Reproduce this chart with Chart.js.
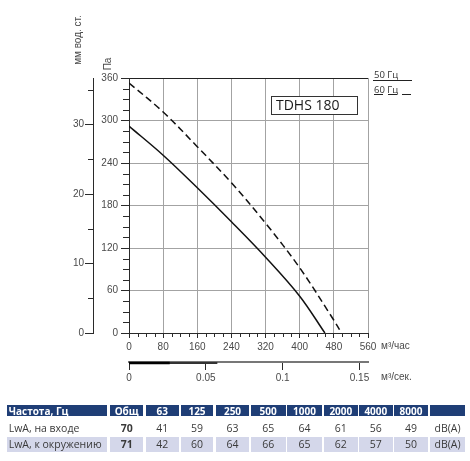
<!DOCTYPE html>
<html><head><meta charset="utf-8">
<script src="https://cdn.jsdelivr.net/npm/chart.js@4/dist/chart.umd.min.js"></script>
<style>
body{margin:0;width:470px;height:461px;overflow:hidden;background:#fff;position:relative;font-family:"Open Sans",sans-serif}
#c{position:absolute;left:0;top:0}
.cell{position:absolute;display:flex;align-items:center;justify-content:center;white-space:nowrap;box-sizing:border-box;color:#3a3a3a;font-size:10.5px}
.hd{background:#1f3e76;color:#fff;font-weight:bold;font-size:10px}
.alt{background:#d4d7ea}
.first{justify-content:flex-start;padding-left:2px}
</style></head>
<body>
<canvas id="c" width="470" height="461"></canvas>
<div id="tbl"></div>
<script>
// ---- data ----
const flow50 = [0, 80, 160, 240, 320, 400, 459];
const pa50   = [292, 251, 205, 157, 107, 52, 0];
const flow60 = [0, 80, 160, 240, 320, 400, 480, 498];
const pa60   = [353, 312, 263, 212, 155, 92, 18, 0];

const flowTicks = [0, 80, 160, 240, 320, 400, 480, 560];
const paTicks   = [0, 60, 120, 180, 240, 300, 360];
const mmTicks   = [0, 10, 20, 30];
const secTicks  = [0, 0.05, 0.1, 0.15];

const seriesNames = ['50 Гц', '60 Гц'];
const modelName = 'TDHS 180';

const tableHead = ['Частота, Гц', 'Общ', '63', '125', '250', '500', '1000', '2000', '4000', '8000', ''];
const rowInLabel = 'LwA, на входе';
const rowIn  = [70, 41, 59, 63, 65, 64, 61, 56, 49];
const rowAmbLabel = 'LwA, к окружению';
const rowAmb = [71, 42, 60, 64, 66, 65, 62, 57, 50];
const unitDb = 'dB(A)';

// ---- chart ----
const tickFont = {family: '"Liberation Sans", Arial, sans-serif', size: 10};
const tickCol = '#4a4a4a';
const dark = '#2a2a2a';

const extras = {
  id: 'extras',
  afterDraw(chart) {
    const c = chart.ctx;
    const xs = chart.scales.x, ys = chart.scales.y, y2 = chart.scales.y2, x2 = chart.scales.x2;
    c.save();
    c.strokeStyle = dark; c.lineWidth = 1;
    for (let v = 15; v < 360; v += 15) {
      if (v % 60 === 0) continue;
      const y = Math.round(ys.getPixelForValue(v)) + 0.5;
      c.beginPath(); c.moveTo(ys.right - 6, y); c.lineTo(ys.right, y); c.stroke();
    }
    [5, 15, 25, 35].forEach(v => {
      const y = Math.round(y2.getPixelForValue(v)) + 0.5;
      c.beginPath(); c.moveTo(y2.right - 5, y); c.lineTo(y2.right, y); c.stroke();
    });
    for (let v = 20; v < 560; v += 20) {
      if (v % 80 === 0) continue;
      const x = Math.round(xs.getPixelForValue(v)) + 0.5;
      c.beginPath(); c.moveTo(x, xs.top); c.lineTo(x, xs.top + 4); c.stroke();
    }
    c.lineWidth = 2; c.strokeStyle = '#333';
    c.beginPath(); c.moveTo(x2.left, x2.top + 1); c.lineTo(x2.getPixelForValue(0.0575), x2.top + 1); c.stroke();
    c.lineWidth = 2.5; c.strokeStyle = '#000';
    c.beginPath(); c.moveTo(x2.left, x2.top + 1); c.lineTo(x2.getPixelForValue(0.0265), x2.top + 1); c.stroke();

    c.fillStyle = tickCol; c.font = '10px "Liberation Sans", Arial, sans-serif';
    c.textAlign = 'left'; c.textBaseline = 'middle';
    c.fillText('м³/час', 381, xs.top + 13.5);
    c.fillText('м³/сек.', 381, x2.top + 15);
    c.save(); c.translate(108, 64); c.rotate(-Math.PI / 2);
    c.textAlign = 'center'; c.fillText('Па', 0, 0); c.restore();
    c.save(); c.translate(78, 40); c.rotate(-Math.PI / 2);
    c.textAlign = 'center'; c.fillText('мм вод. ст.', 0, 0); c.restore();

    c.font = '9.5px "Open Sans", sans-serif'; c.fillStyle = '#333';
    c.textBaseline = 'alphabetic';
    c.fillText(seriesNames[0], 374, 78);
    c.fillText(seriesNames[1], 374, 92.5);
    c.lineWidth = 1; c.strokeStyle = '#222';
    c.beginPath(); c.moveTo(373, 80.5); c.lineTo(412, 80.5); c.stroke();
    c.setLineDash([9, 5]);
    c.beginPath(); c.moveTo(374, 94.5); c.lineTo(412, 94.5); c.stroke();
    c.setLineDash([]);

    c.fillStyle = '#fff'; c.fillRect(271.5, 96.5, 86, 18);
    c.strokeStyle = '#333'; c.strokeRect(271.5, 96.5, 86, 18);
    c.fillStyle = '#1a1a1a'; c.font = '14px "Open Sans", sans-serif';
    c.textBaseline = 'middle'; c.textAlign = 'left';
    c.fillText(modelName, 276, 106);
    c.restore();
  }
};

const setTicks = arr => s => { s.ticks = arr.map(v => ({value: v})); };

new Chart(document.getElementById('c'), {
  type: 'line',
  data: {
    datasets: [
      {label: seriesNames[0], data: flow50.map((x, i) => ({x, y: pa50[i]})),
       borderColor: '#111', borderWidth: 1.5, pointRadius: 0, tension: 0.35},
      {label: seriesNames[1], data: flow60.map((x, i) => ({x, y: pa60[i]})),
       borderColor: '#111', borderWidth: 1.5, borderDash: [7, 4], pointRadius: 0, tension: 0.35}
    ]
  },
  options: {
    responsive: false, animation: false, devicePixelRatio: 1,
    layout: {padding: {left: 53, right: 102, top: 78, bottom: 74}},
    plugins: {legend: {display: false}, tooltip: {enabled: false}},
    scales: {
      x: {type: 'linear', position: 'bottom', weight: 0, min: 0, max: 560,
          afterBuildTicks: setTicks(flowTicks), afterFit: s => { s.height = 29; },
          grid: {color: '#a3a3a3', tickLength: 5, tickColor: dark},
          border: {color: dark, width: 1},
          ticks: {font: tickFont, color: tickCol, padding: 3, maxRotation: 0, autoSkip: false}},
      x2: {type: 'linear', position: 'bottom', weight: 1, min: 0, max: 560 / 3600,
          afterBuildTicks: setTicks(secTicks), afterFit: s => { s.height = 25; },
          grid: {drawOnChartArea: false, tickLength: 8, tickColor: dark},
          border: {color: '#777', width: 2},
          ticks: {font: tickFont, color: tickCol, padding: 2, maxRotation: 0, autoSkip: false,
                  callback: v => String(v)}},
      y: {type: 'linear', position: 'left', weight: 0, min: 0, max: 360,
          afterBuildTicks: setTicks(paTicks), afterFit: s => { s.width = 36; },
          grid: {color: ctx => (ctx.tick && ctx.tick.value === 360) ? '#222' : '#a3a3a3', tickLength: 8, tickColor: dark},
          border: {color: dark, width: 1},
          ticks: {font: tickFont, color: tickCol, padding: 3, autoSkip: false}},
      y2: {type: 'linear', position: 'left', weight: 1, min: 0, max: 360 / 9.80665,
          afterBuildTicks: setTicks(mmTicks), afterFit: s => { s.width = 40; },
          grid: {drawOnChartArea: false, tickLength: 8, tickColor: dark},
          border: {color: dark, width: 1},
          ticks: {font: tickFont, color: tickCol, padding: 1, autoSkip: false, callback: v => String(v)}}
    }
  },
  plugins: [extras]
});

// ---- table ----
const colX = [6.7, 110, 145.7, 181, 216, 250.7, 287, 324, 359, 394.3, 430];
const colW = [100.6, 33.3, 33.3, 32, 33, 35, 35, 33.7, 33.7, 33.4, 35];
const rowsY = [[405, 11], [420, 15], [437, 14.5]];
const tbl = document.getElementById('tbl');
function cell(text, r, ci, cls, bold) {
  const d = document.createElement('div');
  d.className = 'cell ' + cls + (ci === 0 ? ' first' : '');
  d.style.left = colX[ci] + 'px'; d.style.width = colW[ci] + 'px';
  d.style.top = rowsY[r][0] + 'px'; d.style.height = rowsY[r][1] + 'px';
  if (bold) d.style.fontWeight = 'bold';
  d.textContent = text;
  tbl.appendChild(d);
}
tableHead.forEach((t, i) => cell(t, 0, i, 'hd', true));
[[rowInLabel, rowIn, ''], [rowAmbLabel, rowAmb, 'alt']].forEach(([lab, vals, cls], r) => {
  cell(lab, r + 1, 0, cls, false);
  vals.forEach((v, i) => cell(String(v), r + 1, i + 1, cls, i === 0));
  cell(unitDb, r + 1, 10, cls, false);
});
</script>
</body></html>
